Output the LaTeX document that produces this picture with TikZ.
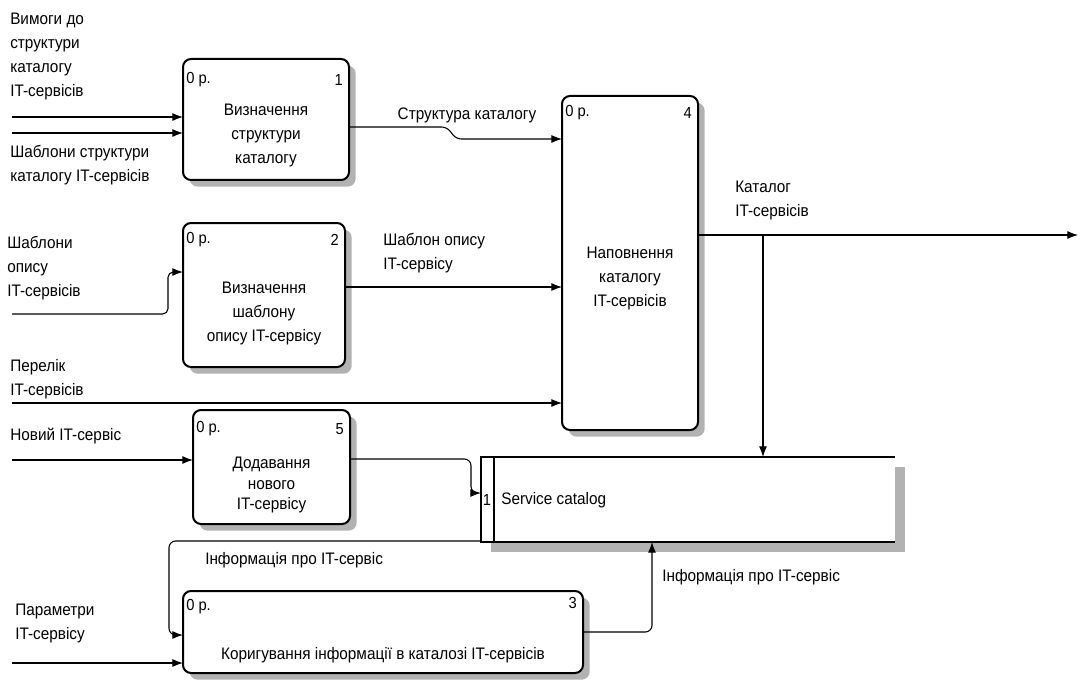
\documentclass[tikz,border=0pt]{standalone}
\usepackage{fontspec}
\setmainfont{Liberation Sans}[FakeStretch=0.92]
\usetikzlibrary{arrows.meta,shadows,calc}
\begin{document}
\begin{tikzpicture}[x=0.75pt,y=-0.75pt,
 proc/.style={draw, line width=1.5pt, rounded corners=6pt, fill=white, inner sep=0pt, outer sep=0pt,
   drop shadow={shadow xshift=5pt, shadow yshift=-5pt, fill=black!30, opacity=1}},
 txt/.style={font=\fontsize{12.5}{18}\selectfont, inner sep=0pt, align=center},
 lbl/.style={font=\fontsize{12.5}{18}\selectfont, inner sep=0pt, align=left, anchor=west},
 tag/.style={font=\fontsize{12}{14}\selectfont, inner sep=0pt},
 arr/.style={line width=0.8pt, -{Latex[length=8pt,width=6pt]}},
 ln/.style={line width=0.8pt}]
\useasboundingbox (0,0) rectangle (1081,681);

% process boxes
\node[proc, minimum width=124.5pt, minimum height=90.75pt] (b1) at (266,119.5) {};
\node[proc, minimum width=121.5pt, minimum height=108pt] (b2) at (264,295) {};
\node[proc, minimum width=102pt, minimum height=250.5pt] (b4) at (630,263) {};
\node[proc, minimum width=117.75pt, minimum height=85.5pt] (b5) at (271.5,467) {};
\node[proc, minimum width=300pt, minimum height=61.5pt] (b3) at (383,632) {};

% box texts
\node[txt] (t1) at (266,135) {Визначення\\структури\\каталогу};
\node[txt] (t2) at (264,313) {Визначення\\шаблону\\опису IT-сервісу};
\node[txt] (t4) at (630,278) {Наповнення\\каталогу\\IT-сервісів};
\node[txt, font=\fontsize{12.5}{15.5}\selectfont] (t5) at (271.5,485) {Додавання\\нового\\IT-сервісу};
\node[txt] (t3) at (383,655) {Коригування інформації в каталозі IT-сервісів};

% corner tags
\node[tag, anchor=west] (o1) at ([shift={(3,21)}]b1.north west) {0 р.};
\node[tag, anchor=east] (n1) at ([shift={(-6,21)}]b1.north east) {1};
\node[tag, anchor=west] (o2) at ([shift={(3,17)}]b2.north west) {0 р.};
\node[tag, anchor=east] (n2) at ([shift={(-6,17)}]b2.north east) {2};
\node[tag, anchor=west] (o4) at ([shift={(3,17)}]b4.north west) {0 р.};
\node[tag, anchor=east] (n4) at ([shift={(-6,17)}]b4.north east) {4};
\node[tag, anchor=west] (o5) at ([shift={(3,19)}]b5.north west) {0 р.};
\node[tag, anchor=east] (n5) at ([shift={(-6,19)}]b5.north east) {5};
\node[tag, anchor=west] (o3) at ([shift={(3,16)}]b3.north west) {0 р.};
\node[tag, anchor=east] (n3) at ([shift={(-6,12)}]b3.north east) {3};

% service catalog store
\node[minimum width=310.5pt, minimum height=63.75pt, inner sep=0pt, outer sep=0pt] (sc) at (688,499.5) {};
\fill[black!30] ([shift={(10,10)}]sc.north west) rectangle ([shift={(10,10)}]sc.south east);
\fill[white] (sc.north west) rectangle (sc.south east);
\draw[line width=1.5pt] (sc.north east) -- (sc.north west) -- (sc.south west) -- (sc.south east);
\draw[line width=1.5pt] ([xshift=9.75pt]sc.north west) -- ([xshift=9.75pt]sc.south west);
\node[tag] (scn) at (487,500) {1};
\node[lbl] (sct) at (501,500) {Service catalog};

% coordinates
\coordinate (i1a) at (12,117);
\coordinate (i1b) at (12,133);
\coordinate (k1) at (447,127);
\coordinate (k2) at (456,139);
\coordinate (k3) at (450,287);
\coordinate (i4) at (12,403);
\coordinate (o4e) at (1078,235);
\coordinate (k4) at (763,235);
\coordinate (i2) at (12,314);
\coordinate (k5) at (168,314);
\coordinate (k6) at (168,272);
\coordinate (i5) at (12,460);
\coordinate (k7) at (471,459);
\coordinate (k8) at (471,493);
\coordinate (k9) at (169,541);
\coordinate (k10) at (169,635);
\coordinate (i3) at (12,663);
\coordinate (k11) at (652,632);

% connectors
\draw[arr] (i1a) -- (i1a -| b1.west);
\draw[arr] (i1b) -- (i1b -| b1.west);
\draw[arr, rounded corners=4pt] (b1.east |- k1) -- (k1) -- (k2) -- (k2 -| b4.west);
\draw[arr] (b2.east |- k3) -- (k3 -| b4.west);
\draw[arr] (i4) -- (i4 -| b4.west);
\draw[arr] (b4.east |- o4e) -- (o4e);
\draw[arr, rounded corners=3pt] (k4) -- (k4 |- sc.north);
\draw[arr, rounded corners=4pt] (i2) -- (k5) -- (k6) -- (k6 -| b2.west);
\draw[arr] (i5) -- (i5 -| b5.west);
\draw[arr, rounded corners=5pt] (b5.east |- k7) -- (k7) -- (k8) -- (k8 -| sc.west);
\draw[arr, rounded corners=5pt] (sc.west |- k9) -- (k9) -- (k10) -- (k10 -| b3.west);
\draw[arr] (i3) -- (i3 -| b3.west);
\draw[arr, rounded corners=5pt] (b3.east |- k11) -- (k11) -- (k11 |- sc.south);

% connector labels
\node[lbl] (l1) at (10,56.5) {Вимоги до\\структури\\каталогу\\IT-сервісів};
\node[lbl] (l2) at (10,165) {Шаблони структури\\каталогу IT-сервісів};
\node[lbl] (l3) at (7,268) {Шаблони\\опису\\IT-сервісів};
\node[lbl] (l4) at (10,379) {Перелік\\IT-сервісів};
\node[lbl] (l5) at (10,436) {Новий IT-сервіс};
\node[lbl] (l6) at (15,623) {Параметри\\IT-сервісу};
\node[txt] (l7) at (467,115) {Структура каталогу};
\node[lbl] (l8) at (383,253) {Шаблон опису\\IT-сервісу};
\node[lbl] (l9) at (735,200) {Каталог\\IT-сервісів};
\node[lbl] (l10) at (205,560) {Інформація про IT-сервіс};
\node[lbl] (l11) at (662,577) {Інформація про IT-сервіс};
\end{tikzpicture}
\end{document}
